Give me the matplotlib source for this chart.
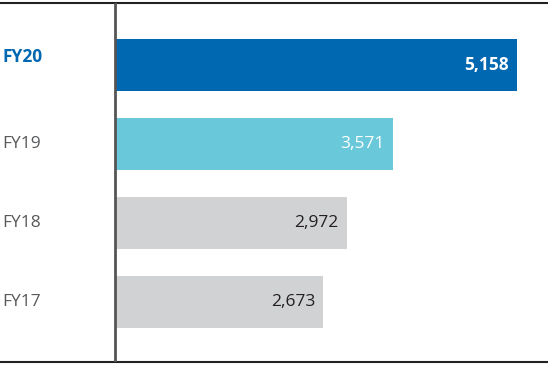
import matplotlib.pyplot as plt

plt.rcParams['font.family'] = ['Open Sans', 'DejaVu Sans']

years = ['FY17', 'FY18', 'FY19', 'FY20']
values = [2673, 2972, 3571, 5158]
bar_colors = ['#d1d2d4', '#d1d2d4', '#69c8da', '#0067b1']
label_colors = ['#58595b', '#58595b', '#58595b', '#0067b1']
value_colors = ['#231f20', '#231f20', 'white', 'white']
bold = [False, False, False, True]

fig = plt.figure(figsize=(5.48, 3.69), dpi=100)
ax = fig.add_axes([0, 1 - 362 / 369, 1, 359 / 369])

ypos = list(range(len(years)))
ax.barh(ypos, values, height=0.66, color=bar_colors, zorder=2)

ax.set_xlim(-1476, 5558)
ax.set_ylim(-0.76, 3.785)
ax.axvline(0, color='#555555', lw=2, zorder=3)

for y, name, v, lc, vc, b in zip(ypos, years, values, label_colors, value_colors, bold):
    w = 'bold' if b else 'normal'
    # the highlighted label sits a little above its bar
    ly = y + 0.1 if b else y
    ax.text(-1445, ly, name, ha='left', va='center', fontsize=12.5,
            color=lc, fontweight=w)
    ax.text(v - 105, y, f'{v:,}', ha='right', va='center', fontsize=12.5,
            color=vc, fontweight=w, zorder=4)

for side in ['left', 'right']:
    ax.spines[side].set_visible(False)
for side in ['top', 'bottom']:
    ax.spines[side].set_color('#222222')
    ax.spines[side].set_linewidth(1.5)
ax.set_xticks([])
ax.set_yticks([])

fig.savefig('out.png', dpi=100)
